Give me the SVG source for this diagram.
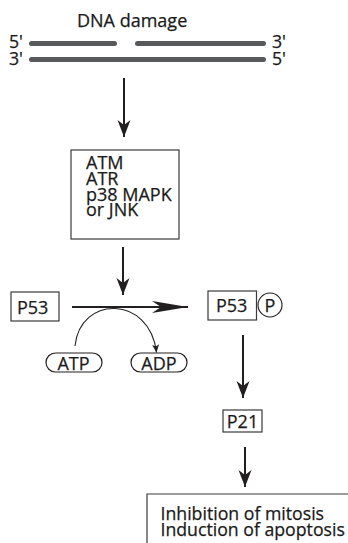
<svg xmlns="http://www.w3.org/2000/svg" width="348" height="543" viewBox="0 0 348 543">
<style>
text{font-family:"Open Sans","Liberation Sans",sans-serif;fill:#1a1a1a;stroke:#1a1a1a;stroke-width:0.25;}
.t18{font-size:18px;}
.t17{font-size:17.7px;}
.box{fill:none;stroke:#3a3a3a;stroke-width:1.2;}
.pill{fill:#fff;stroke:#231f20;stroke-width:1.2;}
.strand{stroke:#58595b;stroke-width:5;stroke-linecap:round;fill:none;}
.shaft{stroke:#231f20;stroke-width:2;fill:none;}
.thin{stroke:#231f20;stroke-width:1.1;fill:none;}
</style>
<defs>
<marker id="ah" markerUnits="userSpaceOnUse" viewBox="-18 -8 20 16" markerWidth="20" markerHeight="16" refX="0" refY="0" orient="auto">
<path d="M0,0 L-17,-6.5 L-12,0 L-17,6.5 Z" fill="#231f20"/>
</marker>
<marker id="big" markerUnits="userSpaceOnUse" viewBox="-38 -8 40 16" markerWidth="40" markerHeight="16" refX="0" refY="0" orient="auto">
<path d="M0,0 L-36,-6 L-27,0 L-36,6 Z" fill="#231f20"/>
</marker>
<marker id="sm" markerUnits="userSpaceOnUse" viewBox="-10 -5 12 10" markerWidth="12" markerHeight="10" refX="0" refY="0" orient="auto">
<path d="M0,0 L-8,-3.5 L-6,0 L-8,3.5 Z" fill="#231f20"/>
</marker>
</defs>

<g id="dna">
<text class="t18" x="77" y="27">DNA damage</text>
<text class="t17" x="9" y="48">5'</text>
<text class="t17" x="9" y="65">3'</text>
<text class="t17" x="272" y="48">3'</text>
<text class="t17" x="272" y="65">5'</text>
<line class="strand" x1="31.5" y1="43.5" x2="114.5" y2="43.5"/>
<line class="strand" x1="137.5" y1="43.5" x2="263.5" y2="43.5"/>
<line class="strand" x1="31.5" y1="59.5" x2="263.5" y2="59.5"/>
</g>

<g id="kinases">
<rect class="box" x="71" y="150" width="108" height="89"/>
<text class="t18" x="86" y="169">ATM</text>
<text class="t18" x="86" y="185">ATR</text>
<text class="t18" x="86" y="200.5">p38 MAPK</text>
<text class="t18" x="86" y="216">or JNK</text>
</g>

<g id="p53">
<rect class="box" x="11" y="292" width="48" height="29"/>
<text class="t18" x="17" y="313.5">P53</text>
</g>

<g id="p53p">
<rect class="box" x="208" y="291" width="48.5" height="29"/>
<text class="t18" x="216" y="312">P53</text>
<circle class="thin" cx="270" cy="305" r="12"/>
<text class="t18" x="270" y="311.5" text-anchor="middle">P</text>
</g>

<g id="atp">
<rect class="pill" x="46" y="353" width="56" height="19" rx="9.5"/>
<text class="t18" x="73.5" y="369.5" text-anchor="middle">ATP</text>
</g>

<g id="adp">
<rect class="pill" x="131" y="353" width="56" height="19" rx="9.5"/>
<text class="t18" x="159" y="369.5" text-anchor="middle">ADP</text>
</g>

<g id="p21">
<rect class="box" x="223" y="410" width="39" height="22"/>
<text class="t18" x="242.5" y="428" text-anchor="middle">P21</text>
</g>

<g id="outcome">
<path class="box" d="M147,543 V494 H348"/>
<text class="t17" x="160.5" y="520">Inhibition of mitosis</text>
<text class="t17" x="160.5" y="535.5">Induction of apoptosis</text>
</g>

<g id="connectors">
<line class="shaft" x1="124" y1="78" x2="124" y2="137" marker-end="url(#ah)"/>
<line class="shaft" x1="123" y1="247" x2="123" y2="295" marker-end="url(#ah)"/>
<line class="shaft" x1="72" y1="307" x2="188" y2="307" marker-end="url(#big)"/>
<path class="thin" d="M75,346 C80,295 150,295 156.5,352.5" marker-end="url(#sm)"/>
<line class="shaft" x1="243" y1="335" x2="243" y2="398" marker-end="url(#ah)"/>
<line class="shaft" x1="245" y1="447" x2="245" y2="487" marker-end="url(#ah)"/>
</g>
</svg>
